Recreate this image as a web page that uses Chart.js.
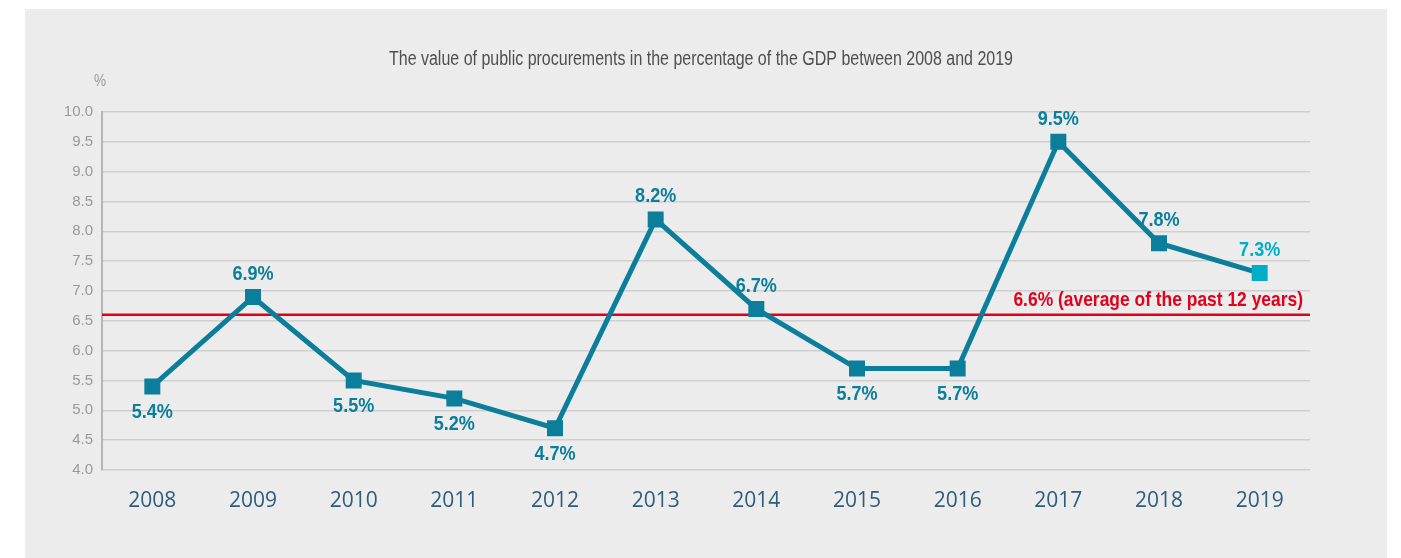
<!DOCTYPE html>
<html>
<head>
<meta charset="utf-8">
<script src="https://cdn.jsdelivr.net/npm/chart.js@4.4.1/dist/chart.umd.min.js"></script>
<style>
  html, body { margin: 0; padding: 0; background: #ffffff; }
  #panel { position: absolute; left: 25px; top: 9px; width: 1362px; height: 549px; background: #ececec; }
  #wrap { position: absolute; left: 0; top: 0; width: 1401px; height: 558px; }
</style>
</head>
<body>
<div id="panel"></div>
<div id="wrap"><canvas id="c" width="1401" height="558"></canvas></div>
<script>
const years = ['2008','2009','2010','2011','2012','2013','2014','2015','2016','2017','2018','2019'];
const gdpShare = [5.4, 6.9, 5.5, 5.2, 4.7, 8.2, 6.7, 5.7, 5.7, 9.5, 7.8, 7.3];
const labelAbove = [false, true, false, false, false, true, true, false, false, true, true, true];
const averageValue = 6.6;
const averageLabel = '6.6% (average of the past 12 years)';
const titleText = 'The value of public procurements in the percentage of the GDP between 2008 and 2019';
const unitLabel = '%';

const TEAL = '#0b7e9b';
const CYAN = '#00aec8';
const RED = '#e3001b';
const SANS = '"Liberation Sans", Arial, sans-serif';

const pointColors = gdpShare.map((v, i) => i === gdpShare.length - 1 ? CYAN : TEAL);

// draw text condensed horizontally (the reference uses a condensed typeface)
function condensedText(ctx, text, x, y, sx) {
  ctx.save();
  ctx.translate(x, y);
  ctx.scale(sx, 1);
  ctx.fillText(text, 0, 0);
  ctx.restore();
}

const overlay = {
  id: 'overlay',
  beforeDatasetsDraw(chart) {
    const ctx = chart.ctx;
    const y = chart.scales.y;
    const area = chart.chartArea;
    // title
    ctx.save();
    ctx.font = '19.5px ' + SANS;
    ctx.fillStyle = '#4f4f4f';
    ctx.textAlign = 'center';
    ctx.textBaseline = 'middle';
    condensedText(ctx, titleText, 701, 60, 0.82);
    // unit label
    ctx.font = '16px ' + SANS;
    ctx.fillStyle = '#9a9a9a';
    condensedText(ctx, unitLabel, 100, 82, 0.85);
    ctx.restore();
    // average line
    const py = y.getPixelForValue(averageValue);
    ctx.save();
    ctx.strokeStyle = RED;
    ctx.lineWidth = 2.5;
    ctx.beginPath();
    ctx.moveTo(area.left, py);
    ctx.lineTo(area.right, py);
    ctx.stroke();
    ctx.font = 'bold 20.5px ' + SANS;
    ctx.fillStyle = RED;
    ctx.textAlign = 'right';
    ctx.textBaseline = 'middle';
    condensedText(ctx, averageLabel, area.right - 7, py - 15, 0.85);
    ctx.restore();
  },
  afterDraw(chart) {
    const ctx = chart.ctx;
    const meta = chart.getDatasetMeta(0);
    ctx.save();
    ctx.font = 'bold 21px ' + SANS;
    ctx.textAlign = 'center';
    ctx.textBaseline = 'middle';
    meta.data.forEach((pt, i) => {
      ctx.fillStyle = i === gdpShare.length - 1 ? CYAN : TEAL;
      const off = labelAbove[i] ? -23 : 26;
      condensedText(ctx, gdpShare[i].toFixed(1) + '%', pt.x, pt.y + off, 0.86);
    });
    ctx.restore();
  }
};

new Chart(document.getElementById('c'), {
  type: 'line',
  data: {
    labels: years,
    datasets: [{
      data: gdpShare,
      borderColor: TEAL,
      borderWidth: 5,
      pointStyle: 'rect',
      pointRadius: 11.3,
      pointHoverRadius: 11.3,
      pointBackgroundColor: pointColors,
      pointBorderWidth: 0,
      tension: 0,
      fill: false
    }]
  },
  options: {
    responsive: false,
    animation: false,
    layout: { padding: { left: 0, right: 91, top: 112, bottom: 0 } },
    plugins: {
      legend: { display: false },
      tooltip: { enabled: false },
      title: { display: false }
    },
    scales: {
      x: {
        offset: true,
        grid: { display: false, drawTicks: false },
        border: { display: false },
        ticks: { color: '#2c5e7c', font: { family: '"Open Sans", sans-serif', size: 21 }, padding: 18 },
        afterFit(s) { s.height = 88; }
      },
      y: {
        min: 4, max: 10,
        grid: { color: '#cfcfcf', lineWidth: 1.5, drawTicks: false },
        border: { display: true, color: '#b5b5b5', width: 2 },
        ticks: {
          stepSize: 0.5,
          color: '#999999',
          font: { family: SANS, size: 15 },
          padding: 9,
          callback: v => Number(v).toFixed(1)
        },
        afterFit(s) { s.width = 102; }
      }
    }
  },
  plugins: [overlay]
});
</script>
</body>
</html>
